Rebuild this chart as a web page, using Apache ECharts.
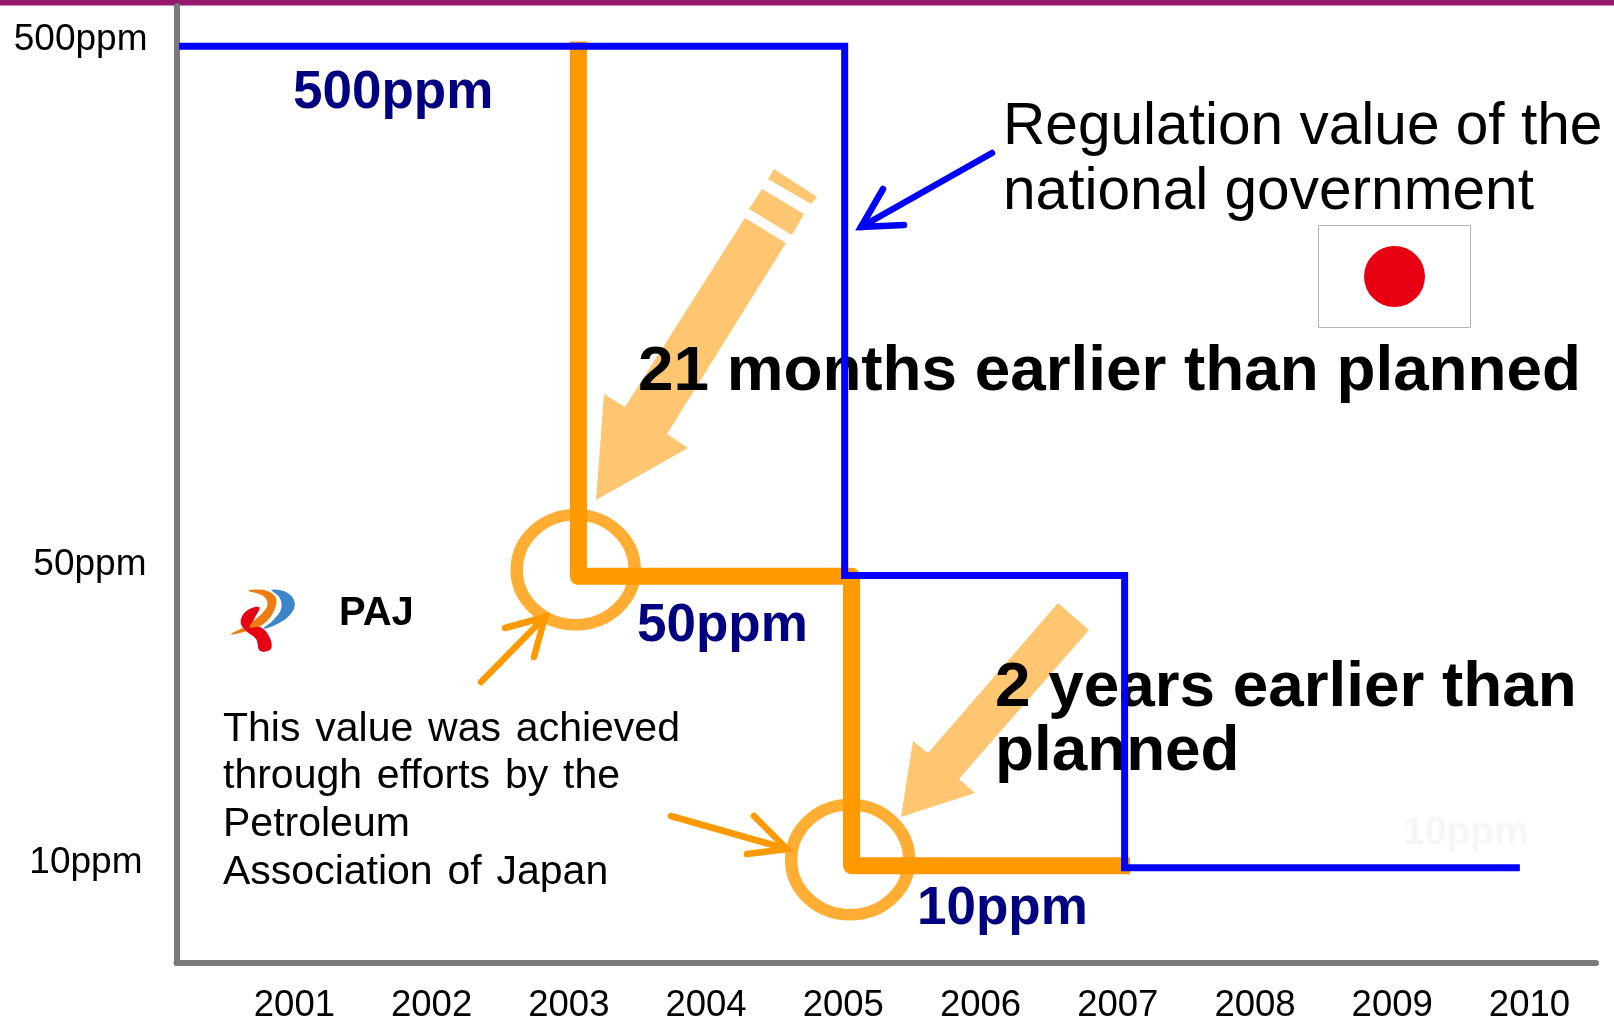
<!DOCTYPE html>
<html>
<head>
<meta charset="utf-8">
<style>
  html, body { margin: 0; padding: 0; background: #fff; }
  #main { width: 1614px; height: 1031px; }
</style>
<script src="https://cdn.jsdelivr.net/npm/echarts@6/dist/echarts.min.js"></script>
</head>
<body>
<div id="main"></div>
<script>
// x axis labels
var years = [2001, 2002, 2003, 2004, 2005, 2006, 2007, 2008, 2009, 2010];

// the y axis is schematic, not to scale: height on a 0-100 axis for each tick
var ppmTicks = ['500ppm', '50ppm', '10ppm'];
var ppmHeights = [95.8, 40.5, 9.95];

// national regulation
var govYears = [2000.16, 2005.01, 2005.01, 2007.05, 2007.05, 2009.93];
var govHeights = [95.8, 95.8, 40.5, 40.5, 9.95, 9.95];

// PAJ voluntary values
var pajYears = [2003.07, 2003.07, 2005.06, 2005.06, 2007.09];
var pajHeights = [96.3, 40.4, 40.4, 10.15, 10.15];

// achievement rings
var ringYears = [2003.05, 2005.05];
var ringHeights = [41.1, 10.8];

var regulationText = 'Regulation value of the\nnational government';
var paj1 = '21 months earlier than planned';
var paj2 = '2 years earlier than\nplanned';
var noteLines = ['This \u200avalue \u200awas \u200aachieved', 'through \u200aefforts \u200aby \u200athe', 'Petroleum', 'Association \u200aof \u200aJapan'];

var font = '"Liberation Sans", Arial, sans-serif';
var orange = '#FF9900';
var pale = '#FFC671';
var navy = '#000080';
var blue = '#0000FF';

function label(text, x, y, size, color, bold, lineHeight) {
  return {
    type: 'text', x: x, y: y, silent: true,
    style: {
      text: text, fill: color, fontFamily: font, fontSize: size,
      fontWeight: bold ? 'bold' : 'normal', verticalAlign: 'middle', lineHeight: lineHeight || size * 1.2
    }
  };
}
function poly(points, fill) {
  return { type: 'polygon', silent: true, shape: { points: points }, style: { fill: fill } };
}
function stroke(points, color) {
  return {
    type: 'polyline', silent: true, shape: { points: points },
    style: { stroke: color, lineWidth: 6.5, fill: null, lineCap: 'round', lineJoin: 'miter' }
  };
}
// thin arrow: shaft plus an open head
function thinArrow(from, tip, b1, b2, color) {
  return [stroke([from, tip], color), stroke([b1, tip, b2], color)];
}
function logoShape(points, fill) {
  return {
    type: 'polygon', silent: true,
    shape: { points: points.map(function (p) { return [210 + p[0] / 3, 570 + p[1] / 3]; }), smooth: 0.4 },
    style: { fill: fill }
  };
}

var decor = [
  { type: 'rect', silent: true, shape: { x: 0, y: 0, width: 1614, height: 5.5 }, style: { fill: '#951A6D' } },

  // pale block arrows
  poly([[596, 500], [604, 394], [625, 407], [745, 218], [786, 243], [667, 434], [688, 448]], pale),
  poly([[762, 189], [804, 214], [792, 235], [749, 209]], pale),
  poly([[774, 169], [817, 197], [811, 204], [768, 179]], pale),
  poly([[901, 817], [913, 741], [928, 753], [1058, 603], [1089, 630], [959, 779], [975, 793]], pale),

  // Japanese flag
  { type: 'rect', silent: true, shape: { x: 1318.5, y: 225.5, width: 152, height: 102 }, style: { fill: '#fff', stroke: '#b4b4b4', lineWidth: 1 } },
  { type: 'circle', silent: true, shape: { cx: 1394.5, cy: 276.5, r: 30.5 }, style: { fill: '#E60012' } },

  // PAJ logo
  logoShape([[185, 60], [228, 66], [254, 97], [242, 132], [200, 163], [160, 176], [190, 150], [214, 115], [208, 82]], '#3A86C8'),
  logoShape([[115, 62], [170, 62], [198, 85], [192, 122], [165, 158], [120, 180], [62, 193], [108, 168], [148, 138], [172, 105], [160, 78]], '#EE7D11'),
  logoShape([[148, 112], [110, 122], [92, 155], [108, 182], [138, 207], [150, 242], [182, 238], [180, 205], [152, 172], [120, 172], [132, 148]], '#E60012'),

  label('PAJ', 339, 614, 40, '#000', true),
  label('500ppm', 293, 93, 53, navy, true),
  label('50ppm', 637, 626, 53, navy, true),
  label('10ppm', 917, 909, 53, navy, true),
  label('10ppm', 1403, 833, 39, '#F6F6F6', true),
  label(regulationText, 1003, 160, 58.6, '#000', false, 65),
  label(paj1, 638, 372, 63.8, '#000', true),
  label(paj2, 995, 720, 63.8, '#000', true, 64),
  label(noteLines[0], 223, 730, 41, '#000', false),
  label(noteLines[1], 223, 777, 41, '#000', false),
  label(noteLines[2], 223, 825, 41, '#000', false),
  label(noteLines[3], 223, 873, 41, '#000', false)
].concat(
  thinArrow([992, 153], [861, 227], [883, 189], [904, 225], blue),
  thinArrow([481, 682], [545, 617], [505, 628], [534, 657], orange),
  thinArrow([671, 816], [787, 849], [754, 816], [747, 854], orange)
);

function zip(a, b) {
  return a.map(function (v, i) { return [v, b[i]]; });
}

var option = {
  animation: false,
  backgroundColor: '#fff',
  grid: { left: 176.5, right: 18, top: 6, bottom: 68 },
  xAxis: {
    type: 'value', min: 2000.141, max: 2010.485,
    axisLine: { onZero: false, lineStyle: { color: '#7A7A7A', width: 6 } },
    axisTick: { show: false },
    splitLine: { show: false },
    axisLabel: {
      customValues: years, margin: 24, color: '#000', fontFamily: font, fontSize: 36.5,
      formatter: function (v) { return String(v); }
    }
  },
  yAxis: {
    type: 'value', min: 0, max: 100,
    axisLine: { show: true, onZero: false, lineStyle: { color: '#7A7A7A', width: 6 } },
    axisTick: { show: false },
    splitLine: { show: false },
    axisLabel: {
      customValues: ppmHeights, margin: 0, color: '#000', fontFamily: font, fontSize: 37,
      formatter: function (v) { return '{t' + ppmHeights.indexOf(v) + '|' + ppmTicks[ppmHeights.indexOf(v)] + '}'; },
      rich: {
        t0: { fontFamily: font, fontSize: 37, color: '#000', padding: [0, 29, 12, 0] },
        t1: { fontFamily: font, fontSize: 37, color: '#000', padding: [0, 30, 22, 0] },
        t2: { fontFamily: font, fontSize: 37, color: '#000', padding: [0, 34, 10, 0] }
      }
    }
  },
  series: [
    {
      name: 'PAJ', type: 'line', z: 2, symbol: 'none',
      data: zip(pajYears, pajHeights),
      lineStyle: { color: orange, width: 17, join: 'round', cap: 'butt' }
    },
    {
      name: 'ring', type: 'scatter', z: 2, symbol: 'circle', symbolSize: [118, 110],
      data: zip(ringYears, ringHeights),
      itemStyle: { color: 'rgba(0,0,0,0)', borderColor: orange, borderWidth: 12 }
    },
    {
      name: 'Regulation', type: 'line', z: 3, symbol: 'none',
      data: zip(govYears, govHeights),
      lineStyle: { color: blue, width: 7, join: 'miter', cap: 'butt' }
    }
  ],
  graphic: { elements: decor }
};

var myChart = echarts.init(document.getElementById('main'));
myChart.setOption(option);
</script>
</body>
</html>
